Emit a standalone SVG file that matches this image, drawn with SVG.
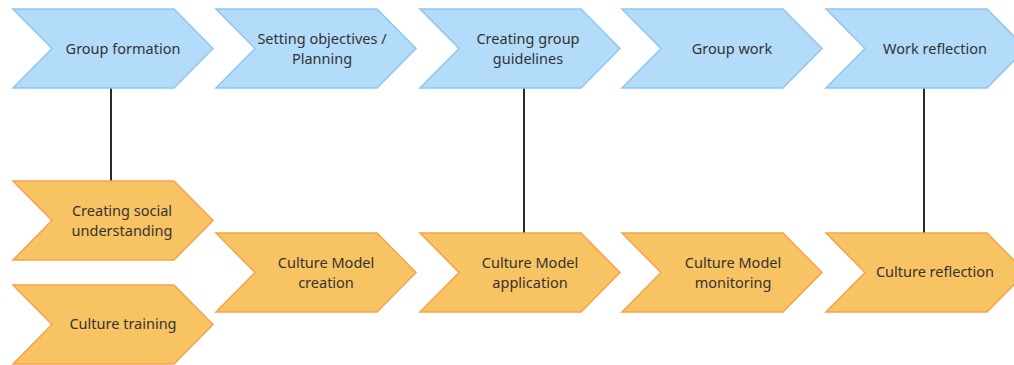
<svg xmlns="http://www.w3.org/2000/svg" width="1014" height="365" viewBox="0 0 1014 365">
  <defs>
    <style>
      .phase { fill: #b3dbfa; stroke: #8fc6f0; stroke-width: 1.5; stroke-linejoin: miter; }
      .culture { fill: #f8c363; stroke: #f5a24c; stroke-width: 1.5; stroke-linejoin: miter; }
      .label { font-family: "Noto Sans", "Open Sans", sans-serif; font-size: 14.5px; fill: #333333; text-anchor: middle; }
      .link { stroke: #2b2b2b; stroke-width: 2; fill: none; }
    </style>
    <!-- chevron shape: 200 wide, 79 tall, 39 deep notch and point -->
    <polygon id="chev" points="0,0 161,0 200,39.5 161,79 0,79 39,39.5"/>
  </defs>
  <rect width="1014" height="365" fill="#ffffff"/>

  <!-- connectors between phases and culture steps -->
  <g id="connectors">
    <line class="link" x1="111" y1="88" x2="111" y2="181"/>
    <line class="link" x1="524" y1="88" x2="524" y2="233"/>
    <line class="link" x1="924" y1="88" x2="924" y2="233"/>
  </g>

  <!-- top row: group phases -->
  <g id="group-formation">
    <use href="#chev" class="phase" x="13" y="9"/>
    <text class="label" x="123" y="54">Group formation</text>
  </g>
  <g id="setting-objectives">
    <use href="#chev" class="phase" x="216" y="9"/>
    <text class="label" x="322" y="44">Setting objectives /</text>
    <text class="label" x="322" y="64">Planning</text>
  </g>
  <g id="group-guidelines">
    <use href="#chev" class="phase" x="420" y="9"/>
    <text class="label" x="528" y="44">Creating group</text>
    <text class="label" x="528" y="64">guidelines</text>
  </g>
  <g id="group-work">
    <use href="#chev" class="phase" x="622" y="9"/>
    <text class="label" x="732" y="54">Group work</text>
  </g>
  <g id="work-reflection">
    <use href="#chev" class="phase" x="826" y="9"/>
    <text class="label" x="935" y="54">Work reflection</text>
  </g>

  <!-- lower rows: culture steps -->
  <g id="social-understanding">
    <use href="#chev" class="culture" x="13" y="181"/>
    <text class="label" x="122" y="216">Creating social</text>
    <text class="label" x="122" y="236">understanding</text>
  </g>
  <g id="culture-training">
    <use href="#chev" class="culture" x="13" y="285"/>
    <text class="label" x="123" y="329">Culture training</text>
  </g>
  <g id="model-creation">
    <use href="#chev" class="culture" x="216" y="233"/>
    <text class="label" x="326" y="268">Culture Model</text>
    <text class="label" x="326" y="288">creation</text>
  </g>
  <g id="model-application">
    <use href="#chev" class="culture" x="420" y="233"/>
    <text class="label" x="530" y="268">Culture Model</text>
    <text class="label" x="530" y="288">application</text>
  </g>
  <g id="model-monitoring">
    <use href="#chev" class="culture" x="622" y="233"/>
    <text class="label" x="733" y="268">Culture Model</text>
    <text class="label" x="733" y="288">monitoring</text>
  </g>
  <g id="culture-reflection">
    <use href="#chev" class="culture" x="826" y="233"/>
    <text class="label" x="935" y="277">Culture reflection</text>
  </g>
</svg>
